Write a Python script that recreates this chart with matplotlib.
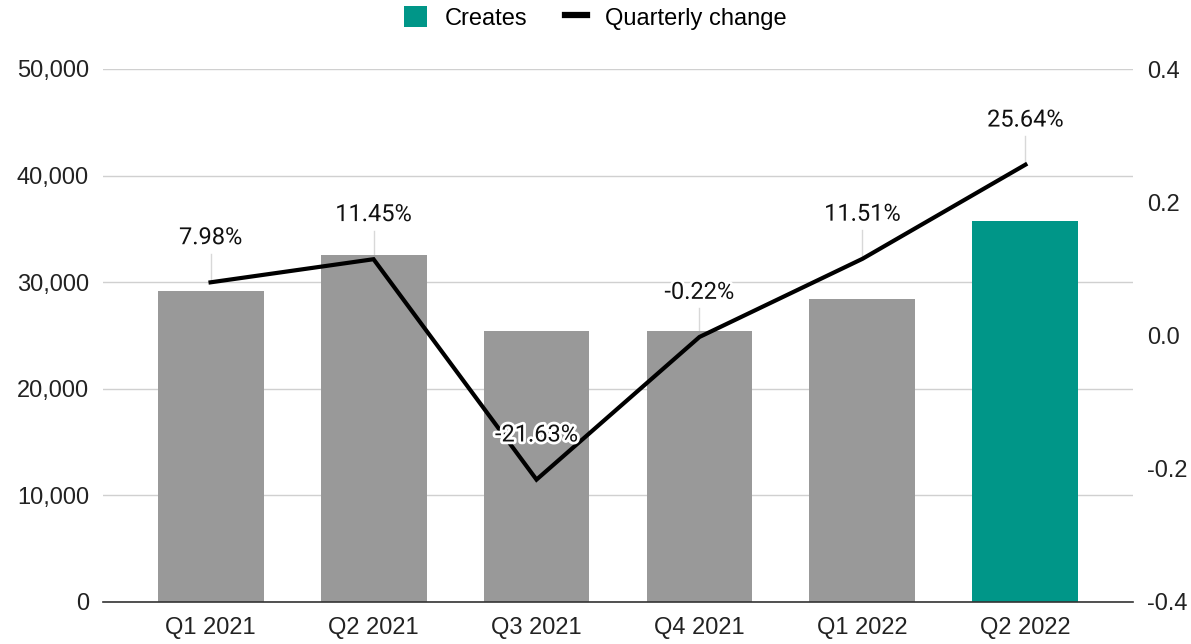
import matplotlib.pyplot as plt
import matplotlib.patheffects as pe
from matplotlib.lines import Line2D
from matplotlib.patches import Patch

quarters = ["Q1 2021", "Q2 2021", "Q3 2021", "Q4 2021", "Q1 2022", "Q2 2022"]
creates = [29200, 32550, 25450, 25400, 28450, 35750]
change = [0.0798, 0.1145, -0.2163, -0.0022, 0.1151, 0.2564]
change_labels = ["7.98%", "11.45%", "-21.63%", "-0.22%", "11.51%", "25.64%"]

GREY = "#999999"
TEAL = "#009688"
bar_colors = [GREY] * 5 + [TEAL]
FS = 17

plt.rcParams["font.family"] = ["Liberation Sans", "DejaVu Sans"]

fig = plt.figure(figsize=(11.91, 6.44), dpi=100)
ax = fig.add_axes([103 / 1191, 42 / 644, 1030 / 1191, 533 / 644])
ax2 = ax.twinx()

x = list(range(len(quarters)))
ax.bar(x, creates, width=0.65, color=bar_colors, zorder=3)

ax.set_ylim(0, 50000)
ax.set_xlim(-0.66, 5.66)
ax.set_yticks(range(0, 50001, 10000))
ax.set_yticklabels([f"{v:,}" for v in range(0, 50001, 10000)], fontsize=FS, color="#222222")
ax.set_xticks(x)
ax.set_xticklabels(quarters, fontsize=FS, color="#222222")
ax.grid(axis="y", color="#d0d0d0", linewidth=1, zorder=0)
ax.set_axisbelow(True)
for s in ["top", "left", "right"]:
    ax.spines[s].set_visible(False)
ax.spines["bottom"].set_color("#333333")
ax.spines["bottom"].set_linewidth(1.2)
ax.spines["bottom"].set_zorder(4)
ax.tick_params(axis="y", length=0, pad=10)
ax.tick_params(axis="x", length=0, pad=10.5)

ax2.set_ylim(-0.4, 0.4)
ax2.set_yticks([-0.4, -0.2, 0.0, 0.2, 0.4])
ax2.set_yticklabels(["-0.4", "-0.2", "0.0", "0.2", "0.4"], fontsize=FS, color="#222222")
ax2.tick_params(axis="y", length=0, pad=10)
for s in ["top", "left", "right", "bottom"]:
    ax2.spines[s].set_visible(False)

ax.set_zorder(1)
ax2.set_zorder(2)
ax2.patch.set_visible(False)

ax2.plot(x, change, color="black", linewidth=3, zorder=5, solid_joinstyle="miter")

# data labels; leader lines sit behind the bars
offset = 0.067
for xi, v, lab in zip(x, change, change_labels):
    ax.plot([xi, xi], [v, v + offset - 0.024], color="#d8d8d8", linewidth=1,
            zorder=2, transform=ax2.transData)
    ax2.text(xi, v + offset, lab, ha="center", va="center", fontsize=FS,
             family=["Roboto", "DejaVu Sans"], color="#111111", zorder=6,
             path_effects=[pe.withStroke(linewidth=4, foreground="white")])

handles = [Patch(facecolor=TEAL, edgecolor="none"),
           Line2D([0], [0], color="black", linewidth=4.5)]
fig.legend(handles, ["Creates", "Quarterly change"], loc="center",
           bbox_to_anchor=(0.5, 1 - 18 / 644), ncol=2, frameon=False,
           fontsize=FS, handlelength=0.95, handleheight=0.95, columnspacing=1.6,
           handletextpad=0.75)

fig.savefig("out.png", dpi=100, facecolor="white")
